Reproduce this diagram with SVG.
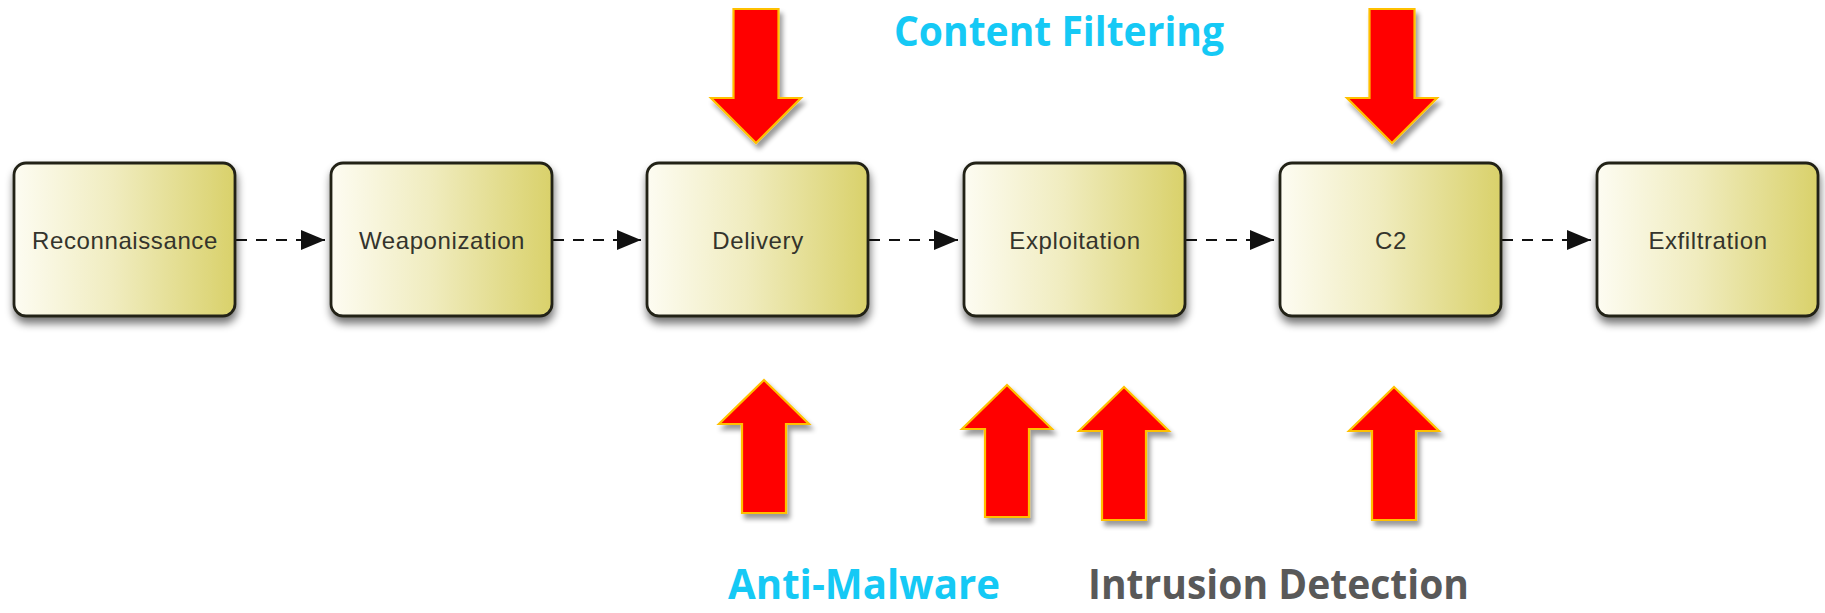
<svg xmlns="http://www.w3.org/2000/svg" width="1825" height="613" viewBox="0 0 1825 613">
<style>
.box{fill:url(#boxGrad);stroke:#222219;stroke-width:2.8;filter:url(#boxShadow)}
.lbl{font-family:"Liberation Sans",Arial,sans-serif;font-size:24px;fill:#34342c;text-anchor:middle;letter-spacing:0.6px}
.conn{stroke:#111;stroke-width:2;stroke-dasharray:11 9;fill:none}
.big{fill:#ff0000;stroke:#ffc000;stroke-width:2.2;stroke-linejoin:miter;filter:url(#arrowShadow)}
.cap{font-family:"Open Sans","Liberation Sans",sans-serif;font-weight:700;font-size:41px}
</style>
<defs>
<linearGradient id="boxGrad" x1="0" y1="0" x2="1" y2="0">
<stop offset="0" stop-color="#fdfcf2"/>
<stop offset="0.45" stop-color="#f0ecbf"/>
<stop offset="1" stop-color="#d9d16a"/>
</linearGradient>
<filter id="boxShadow" x="-10%" y="-10%" width="125%" height="135%">
<feGaussianBlur in="SourceAlpha" stdDeviation="4"/>
<feOffset dx="1" dy="6" result="o"/>
<feComponentTransfer><feFuncA type="linear" slope="0.55"/></feComponentTransfer>
<feMerge><feMergeNode/><feMergeNode in="SourceGraphic"/></feMerge>
</filter>
<filter id="arrowShadow" x="-20%" y="-10%" width="150%" height="130%">
<feGaussianBlur in="SourceAlpha" stdDeviation="2.5"/>
<feOffset dx="3" dy="5" result="o"/>
<feComponentTransfer><feFuncA type="linear" slope="0.4"/></feComponentTransfer>
<feMerge><feMergeNode/><feMergeNode in="SourceGraphic"/></feMerge>
</filter>
<marker id="head" markerUnits="userSpaceOnUse" markerWidth="25" markerHeight="20" refX="24" refY="10" orient="auto">
<path d="M0,0 L24,10 L0,20 Z" fill="#111"/>
</marker>
</defs>
<rect width="1825" height="613" fill="#ffffff"/>

<g id="connectors">
<line class="conn" x1="236" y1="240" x2="325" y2="240" marker-end="url(#head)"/>
<line class="conn" x1="553" y1="240" x2="641" y2="240" marker-end="url(#head)"/>
<line class="conn" x1="869" y1="240" x2="958" y2="240" marker-end="url(#head)"/>
<line class="conn" x1="1186" y1="240" x2="1274" y2="240" marker-end="url(#head)"/>
<line class="conn" x1="1502" y1="240" x2="1591" y2="240" marker-end="url(#head)"/>
</g>

<g id="reconnaissance"><rect class="box" x="14" y="163" width="221" height="153" rx="12"/><text class="lbl" x="125" y="249">Reconnaissance</text></g>
<g id="weaponization"><rect class="box" x="331" y="163" width="221" height="153" rx="12"/><text class="lbl" x="442" y="249">Weaponization</text></g>
<g id="delivery"><rect class="box" x="647" y="163" width="221" height="153" rx="12"/><text class="lbl" x="758" y="249">Delivery</text></g>
<g id="exploitation"><rect class="box" x="964" y="163" width="221" height="153" rx="12"/><text class="lbl" x="1075" y="249">Exploitation</text></g>
<g id="c2"><rect class="box" x="1280" y="163" width="221" height="153" rx="12"/><text class="lbl" x="1391" y="249">C2</text></g>
<g id="exfiltration"><rect class="box" x="1597" y="163" width="221" height="153" rx="12"/><text class="lbl" x="1708" y="249">Exfiltration</text></g>

<g id="arrow-delivery-down"><path class="big" d="M733.5,9 H778.5 V98 H801 L756,143 L711,98 H733.5 Z"/></g>
<g id="arrow-c2-down"><path class="big" d="M1369.5,9 H1414.5 V98 H1437 L1392,143 L1347,98 H1369.5 Z"/></g>
<g id="arrow-delivery-up"><path class="big" d="M764,380 L809,424 H786 V513 H742 V424 H719 Z"/></g>
<g id="arrow-exploit-up1"><path class="big" d="M1007,385 L1052,429 H1029 V517 H985 V429 H962 Z"/></g>
<g id="arrow-exploit-up2"><path class="big" d="M1124,387 L1169,431 H1146 V520 H1102 V431 H1079 Z"/></g>
<g id="arrow-c2-up"><path class="big" d="M1394,387 L1439,431 H1416 V520 H1372 V431 H1349 Z"/></g>

<g id="label-content-filtering"><text class="cap" x="894" y="46" fill="#15c9f5" textLength="330" lengthAdjust="spacingAndGlyphs">Content Filtering</text></g>
<g id="label-anti-malware"><text class="cap" x="728" y="599" fill="#15c9f5" textLength="272" lengthAdjust="spacingAndGlyphs">Anti-Malware</text></g>
<g id="label-intrusion-detection"><text class="cap" x="1088" y="599" fill="#595959" textLength="381" lengthAdjust="spacingAndGlyphs">Intrusion Detection</text></g>
</svg>
